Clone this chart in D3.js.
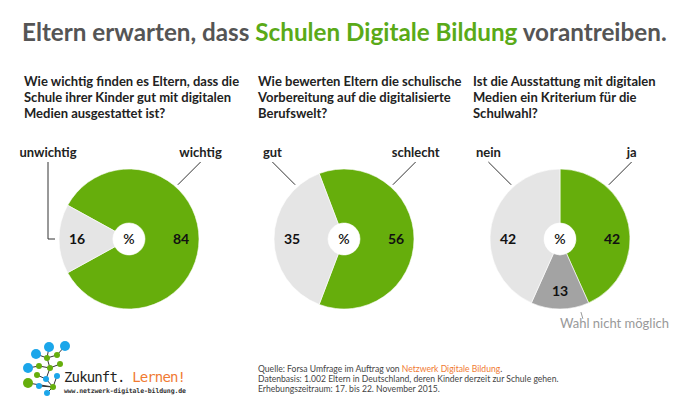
<!DOCTYPE html>
<meta charset="utf-8">
<style>
  body { margin: 0; background: #fff; }
  svg { display: block; }
  text { font-family: Lato, "Open Sans", sans-serif; }
  .q { font-size: 13px; font-weight: 700; fill: #222; }
  .cat { font-size: 13px; font-weight: 700; fill: #222; }
  .val { font-size: 14px; font-weight: 700; fill: #111; }
  .lead { stroke: #333; stroke-width: 1; fill: none; }
  .foot { font-size: 8.6px; fill: #444; }
</style>
<body>
<script src="https://cdn.jsdelivr.net/npm/d3@7"></script>
<script>
// data
var titleParts = [
  {t: "Eltern erwarten, dass ", c: "#555"},
  {t: "Schulen Digitale Bildung", c: "#5aaa18"},
  {t: " vorantreiben.", c: "#555"}
];
var questions = [
  ["Wie wichtig finden es Eltern, dass die", "Schule ihrer Kinder gut mit digitalen", "Medien ausgestattet ist?"],
  ["Wie bewerten Eltern die schulische", "Vorbereitung auf die digitalisierte", "Berufswelt?"],
  ["Ist die Ausstattung mit digitalen", "Medien ein Kriterium für die", "Schulwahl?"]
];
var pie1Names = ["wichtig", "unwichtig"];
var pie1Values = [84, 16];
var pie2Names = ["schlecht", "gut"];
var pie2Values = [56, 35];
var pie3Names = ["ja", "Wahl nicht möglich", "nein"];
var pie3Values = [42, 13, 42];
var footLines = [
  [{t: "Quelle: Forsa Umfrage im Auftrag von "}, {t: "Netzwerk Digitale Bildung", o: 1}, {t: "."}],
  [{t: "Datenbasis: 1.002 Eltern in Deutschland, deren Kinder derzeit zur Schule gehen."}],
  [{t: "Erhebungszeitraum: 17. bis 22. November 2015."}]
];

var green = "#66ae0c", light = "#e5e5e5", dark = "#a3a3a3", orange = "#f07a32", blue = "#1ba6ea";

var W = 690, H = 414;
var svg = d3.select("body").append("svg").attr("width", W).attr("height", H);

// title, fitted to width
var title = svg.append("text").attr("x", 22).attr("y", 41).style("font-size", "25px").style("font-weight", 700);
title.selectAll("tspan").data(titleParts).enter().append("tspan")
  .attr("fill", function(d) { return d.c; }).text(function(d) { return d.t; });
var tw = title.node().getComputedTextLength();
title.style("font-size", (25 * 645 / tw) + "px");

var charts = [
  {names: pie1Names, values: pie1Values, colors: [green, light], cx: 129, qx: 24, leftStyle: "elbow"},
  {names: pie2Names, values: pie2Values, colors: [green, light], cx: 344, qx: 258, leftStyle: "diag"},
  {names: pie3Names, values: pie3Values, colors: [green, dark, light], cx: 560, qx: 473, leftStyle: "diag"}
];
var cy = 239, R = 70, r0 = 16, topY = 162;

charts.forEach(function(ch, i) {
  // question
  var q = svg.append("text").attr("class", "q");
  q.selectAll("tspan").data(questions[i]).enter().append("tspan")
    .attr("x", ch.qx).attr("y", function(d, j) { return 86 + j * 16; }).text(function(d) { return d; });

  var total = d3.sum(ch.values);
  var start = ch.values.length === 2 ? Math.PI / 2 - Math.PI * ch.values[0] / total : 0;
  var pie = d3.pie().sort(null).startAngle(start).endAngle(start + 2 * Math.PI);
  var arcs = pie(ch.values);
  var arc = d3.arc().innerRadius(r0).outerRadius(R);
  var g = svg.append("g").attr("transform", "translate(" + ch.cx + "," + cy + ")");

  g.selectAll("path").data(arcs).enter().append("path")
    .attr("d", arc).attr("fill", function(d, j) { return ch.colors[j]; })
    .attr("stroke", "#fff").attr("stroke-width", 0.6);

  g.append("text").attr("class", "val").attr("text-anchor", "middle").attr("dy", "0.35em")
    .style("font-weight", 600).text("%");

  // value labels: horizontal if slice covers the side, else centroid
  var labR = 52;
  g.selectAll("text.v").data(arcs).enter().append("text").attr("class", "val v")
    .attr("text-anchor", "middle").attr("dy", "0.35em")
    .attr("transform", function(d) {
      var a0 = d.startAngle, a1 = d.endAngle, a;
      var norm = function(x) { return ((x % (2 * Math.PI)) + 2 * Math.PI) % (2 * Math.PI); };
      var inSlice = function(t) { var s = norm(a0); var e = s + (a1 - a0); return (t >= s && t <= e) || (t + 2 * Math.PI >= s && t + 2 * Math.PI <= e); };
      if (inSlice(Math.PI / 2)) a = Math.PI / 2;
      else if (inSlice(3 * Math.PI / 2)) a = 3 * Math.PI / 2;
      else a = (a0 + a1) / 2;
      return "translate(" + (labR * Math.sin(a)) + "," + (-labR * Math.cos(a)) + ")";
    })
    .text(function(d) { return d.data; });

  // leaders: right (first slice) and left (last slice)
  var ang = 42 * Math.PI / 180, er = 73;
  var ex = er * Math.sin(ang), ey = -er * Math.cos(ang);
  var rTopX = ch.cx + ex + (cy + ey - topY);
  svg.append("line").attr("class", "lead")
    .attr("x1", rTopX).attr("y1", topY).attr("x2", ch.cx + ex).attr("y2", cy + ey);
  svg.append("text").attr("class", "cat").attr("text-anchor", "middle")
    .attr("x", rTopX).attr("y", topY - 5).text(ch.names[0]);

  var lTopX;
  if (ch.leftStyle === "elbow") {
    lTopX = ch.cx - 81;
    svg.append("path").attr("class", "lead")
      .attr("d", "M" + lTopX + "," + topY + "V" + cy + "H" + (ch.cx - 74));
  } else {
    lTopX = ch.cx - ex - (cy + ey - topY);
    svg.append("line").attr("class", "lead")
      .attr("x1", lTopX).attr("y1", topY).attr("x2", ch.cx - ex).attr("y2", cy + ey);
  }
  svg.append("text").attr("class", "cat").attr("text-anchor", "middle")
    .attr("x", lTopX).attr("y", topY - 5).text(ch.names[ch.names.length - 1]);

  if (ch.names.length === 3) {
    var a = 164 * Math.PI / 180;
    svg.append("line").attr("stroke", "#999").attr("stroke-width", 1)
      .attr("x1", ch.cx + 76 * Math.sin(a)).attr("y1", cy - 76 * Math.cos(a))
      .attr("x2", ch.cx + 83 * Math.sin(a)).attr("y2", cy - 83 * Math.cos(a));
    svg.append("text").attr("x", ch.cx).attr("y", cy + 89)
      .style("font-size", "13px").attr("fill", "#999").text(ch.names[1]);
  }
});

// footer
var foot = svg.append("text").attr("class", "foot");
footLines.forEach(function(line, j) {
  line.forEach(function(p, k) {
    var ts = foot.append("tspan").attr("fill", p.o ? orange : "#444").text(p.t);
    if (k === 0) ts.attr("x", 258).attr("y", 372 + j * 10);
  });
});

// logo
var logoNodes = [
  {x: 53, y: 387, r: 3, c: green}, {x: 47, y: 393, r: 3, c: blue}, {x: 39, y: 386, r: 3, c: blue},
  {x: 28, y: 383, r: 5, c: green}, {x: 46, y: 379, r: 3, c: blue}, {x: 37, y: 375, r: 3, c: green},
  {x: 57, y: 376, r: 3, c: blue}, {x: 50, y: 368, r: 3, c: green}, {x: 39, y: 366, r: 3, c: green},
  {x: 28, y: 368, r: 5, c: blue}, {x: 60, y: 364, r: 3, c: green}, {x: 47, y: 358, r: 3, c: green},
  {x: 36, y: 354, r: 5, c: blue}, {x: 49, y: 347, r: 5, c: blue}, {x: 57, y: 355, r: 3, c: green},
  {x: 65, y: 346, r: 5, c: blue}
];
var logoLinks = [[0,1],[0,2],[0,3],[0,4],[4,5],[0,6],[4,7],[7,8],[8,9],[7,10],[7,11],[11,12],[11,13],[11,14],[14,15]];
var logo = svg.append("g");
logo.selectAll("line").data(logoLinks).enter().append("line")
  .attr("x1", function(d) { return logoNodes[d[0]].x; }).attr("y1", function(d) { return logoNodes[d[0]].y; })
  .attr("x2", function(d) { return logoNodes[d[1]].x; }).attr("y2", function(d) { return logoNodes[d[1]].y; })
  .attr("stroke", "#333").attr("stroke-width", 1);
logo.selectAll("circle").data(logoNodes).enter().append("circle")
  .attr("cx", function(d) { return d.x; }).attr("cy", function(d) { return d.y; })
  .attr("r", function(d) { return d.r; }).attr("fill", function(d) { return d.c; });

var lt = svg.append("text").attr("x", 64).attr("y", 382)
  .style("font-family", "'DejaVu Sans Mono', monospace").style("font-size", "14px").attr("textLength", 122);
lt.append("tspan").attr("fill", "#222").text("Zukunft.");
lt.append("tspan").attr("fill", orange).text(" Lernen!");
svg.append("text").attr("x", 64).attr("y", 393)
  .style("font-family", "'DejaVu Sans Mono', monospace").style("font-size", "6.5px").style("font-weight", 700)
  .attr("fill", "#333").attr("textLength", 122).text("www.netzwerk-digitale-bildung.de");
</script>
